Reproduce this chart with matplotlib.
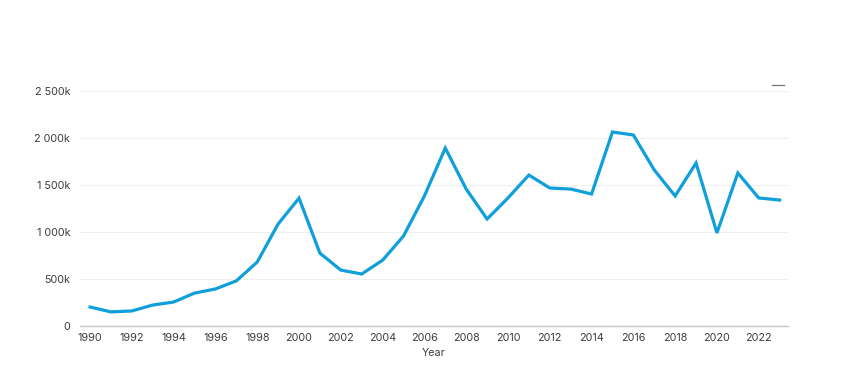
import matplotlib
matplotlib.use("Agg")
import matplotlib.pyplot as plt
from matplotlib.ticker import FuncFormatter
from matplotlib.lines import Line2D

# data
years = list(range(1990, 2024))
values = [202, 150, 160, 223, 255, 350, 394, 480, 680, 1085,
          1360, 775, 595, 553, 700, 957, 1383, 1893, 1457, 1138,
          1362, 1606, 1468, 1457, 1404, 2064, 2032, 1660, 1383, 1734,
          990, 1628, 1362, 1340]  # thousands
y_ticks = [0, 500, 1000, 1500, 2000, 2500]
x_ticks = list(range(1990, 2023, 2))

plt.rcParams['font.family'] = ['Inter', 'DejaVu Sans']

fig = plt.figure(figsize=(8.44, 3.74), dpi=100)
ax = fig.add_axes([80/844, 1-326/374, 708/844, 235/374])

ax.plot(years, values, color='#0f9fdb', linewidth=2.3, solid_joinstyle='miter')

ax.set_xlim(1989.52, 2023.4)
ax.set_ylim(0, 2500)
ax.set_yticks(y_ticks)
ax.set_xticks(x_ticks)

def fmt(v, pos):
    v = int(v)
    if v == 0:
        return '0'
    s = f'{v:,}'.replace(',', ' ')
    return s + 'k'

ax.yaxis.set_major_formatter(FuncFormatter(fmt))
ax.tick_params(axis='both', length=0, labelsize=7.8, labelcolor='#3d3d3d')
ax.tick_params(axis='x', pad=5)
ax.tick_params(axis='y', pad=7)

ax.grid(axis='y', color='#efefef', linewidth=0.8)
ax.set_axisbelow(True)
for side in ['top', 'right', 'left']:
    ax.spines[side].set_visible(False)
ax.spines['bottom'].set_color('#cbc6c2')
ax.spines['bottom'].set_linewidth(1.0)

ax.set_xlabel('Year', fontsize=7.8, color='#3d3d3d', labelpad=4)

# small legend stub at the top right
fig.add_artist(Line2D([772/844, 784/844], [1-85/374, 1-85/374],
                      color='#777777', linewidth=0.9))

fig.savefig('out.png', dpi=100, facecolor='white')
